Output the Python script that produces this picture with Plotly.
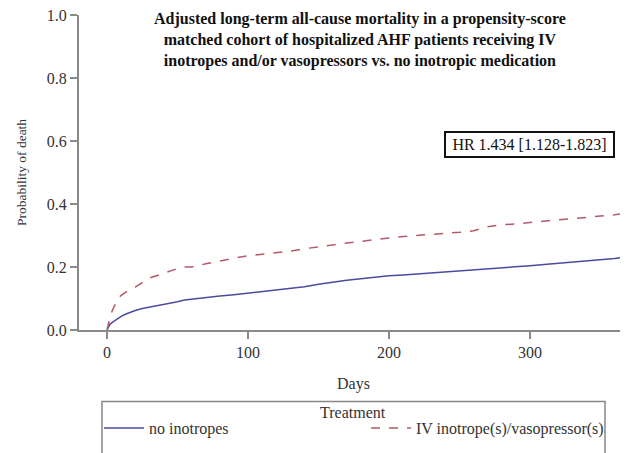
import plotly.graph_objects as go

days = [0,1,2,4,6,8,10,13,16,20,25,30,35,40,45,50,55,60,70,80,90,100,110,120,130,140,150,
        160,170,180,190,200,210,220,230,240,250,260,270,280,290,300,310,320,330,340,350,360,368]
no_inotropes = [0,0.01,0.018,0.025,0.032,0.038,0.043,0.05,0.056,0.062,0.068,0.072,0.076,0.08,0.085,
                0.09,0.095,0.098,0.103,0.108,0.112,0.117,0.121,0.126,0.131,0.137,0.145,0.152,0.158,
                0.163,0.168,0.172,0.175,0.178,0.181,0.184,0.187,0.19,0.194,0.197,0.2,0.204,0.208,
                0.212,0.216,0.219,0.222,0.227,0.232]
iv_inotropes = [0,0.02,0.04,0.065,0.085,0.1,0.11,0.12,0.128,0.136,0.15,0.165,0.172,0.18,0.186,0.195,
                0.2,0.2,0.21,0.22,0.228,0.236,0.24,0.245,0.25,0.258,0.265,0.27,0.276,0.282,0.288,
                0.292,0.297,0.301,0.304,0.307,0.31,0.315,0.328,0.334,0.337,0.342,0.346,0.35,0.353,
                0.357,0.361,0.366,0.371]
series_names = ["no inotropes", "IV inotrope(s)/vasopressor(s)"]
x_ticks = [0, 100, 200, 300]
y_ticks = [0.0, 0.2, 0.4, 0.6, 0.8, 1.0]
y_tick_labels = ["0.0", "0.2", "0.4", "0.6", "0.8", "1.0"]

FONT = "Liberation Serif"
AX = "#8a8a8a"
W, H = 628, 453
OFF = 8  # page body margin offset

def px(x):
    return (x - OFF) / W

def py(y):
    return (H - (y - OFF)) / H

fig = go.Figure()
fig.add_trace(go.Scatter(x=days, y=no_inotropes, mode="lines", name=series_names[0],
                         line=dict(color="#4b4ba0", width=1.5)))
fig.add_trace(go.Scatter(x=days, y=iv_inotropes, mode="lines", name=series_names[1],
                         line=dict(color="#b45a66", width=1.5, dash="dash")))

fig.update_layout(
    width=W, height=H,
    margin=dict(l=0, r=0, t=0, b=0),
    paper_bgcolor="white", plot_bgcolor="white",
    font=dict(family=FONT, size=16, color="#333333"),
    showlegend=True,
    legend=dict(orientation="h", x=px(99), xanchor="left", y=py(428), yanchor="middle",
                bgcolor="rgba(0,0,0,0)", borderwidth=0, font=dict(size=16, color="#333333"),
                entrywidth=212, entrywidthmode="pixels", itemwidth=40),
    xaxis=dict(domain=[px(79), px(628)], range=[-19.9, 369.5], tickvals=x_ticks, showline=True,
               linecolor=AX, linewidth=2, ticks="outside", ticklen=7, tickcolor=AX, tickwidth=1.5,
               showgrid=False, zeroline=False, automargin=False, ticklabeloverflow="allow",
               title=dict(text="Days", font=dict(size=16), standoff=18)),
    yaxis=dict(domain=[py(330), py(15)], range=[0, 1.0], tickvals=y_ticks, ticktext=y_tick_labels,
               showline=True, linecolor=AX, linewidth=2, ticks="outside", ticklen=7, tickcolor=AX,
               tickwidth=1.5, showgrid=False, zeroline=False, automargin=False,
               ticklabeloverflow="allow",
               title=dict(text="Probability of death", font=dict(size=13.5), standoff=17)),
)

fig.add_annotation(xref="paper", yref="paper", x=px(360), y=py(40), xanchor="center",
                   yanchor="middle", showarrow=False,
                   text="<b>Adjusted long-term all-cause mortality in a propensity-score<br>"
                        "matched cohort of hospitalized AHF patients receiving IV<br>"
                        "inotropes and/or vasopressors vs. no inotropic medication</b>",
                   font=dict(family=FONT, size=16, color="#111111"), align="center")
fig.add_annotation(xref="paper", yref="paper", x=px(529.5), y=py(144.5), xanchor="center",
                   yanchor="middle", showarrow=False, width=163, height=19,
                   text="HR 1.434 [1.128-1.823]", font=dict(family=FONT, size=16, color="#111111"),
                   bordercolor="#111111", borderwidth=2, borderpad=2, bgcolor="white")
fig.add_annotation(xref="paper", yref="paper", x=px(353), y=py(412), xanchor="center",
                   yanchor="middle", showarrow=False,
                   text="Treatment", font=dict(family=FONT, size=16, color="#333333"))
fig.add_shape(type="rect", xref="paper", yref="paper", x0=px(102), x1=px(605), y0=-0.05,
              y1=py(401.5), line=dict(color="#888888", width=1.5))

fig.write_html("out.html")
